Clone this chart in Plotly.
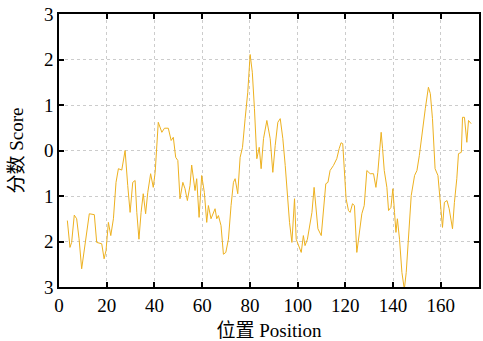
import plotly.graph_objects as go

position = [3.5,4.6,5.3,6.4,7.4,8.4,9.5,10.6,11.6,12.7,14.8,15.8,17.9,18.9,19.7,20.7,21.7,22.8,23.9,24.9,
            26.3,27.7,28.8,29.8,30.9,31.9,32.6,33.5,34.4,35.3,36.3,37.2,38.4,39.5,40.3,41.6,43.1,44.2,45.8,47.0,
            47.9,48.9,49.8,50.7,51.9,52.8,53.8,54.9,55.6,56.3,57.0,57.7,58.7,59.8,60.9,61.9,62.6,63.7,64.7,65.4,
            66.1,66.8,67.9,68.9,69.9,71.0,72.1,73.1,73.8,74.9,75.9,76.9,78.0,79.1,80.1,81.0,81.9,82.9,83.9,84.7,
            85.7,87.1,88.5,89.6,90.6,91.7,92.7,93.8,94.8,95.7,96.6,97.6,98.7,99.4,100.3,101.5,102.4,103.1,104.1,105.2,
            106.0,106.9,107.3,108.5,109.9,110.8,111.8,112.7,113.6,115.0,116.4,117.4,118.2,118.9,119.6,120.3,121.3,122.0,123.0,123.8,
            124.8,125.8,126.9,127.9,129.0,130.4,131.8,132.8,133.6,134.3,135.0,135.6,136.3,137.4,138.1,139.1,139.9,140.6,141.2,141.8,
            142.7,143.7,144.7,145.5,146.5,147.6,149.0,150.0,151.0,152.1,153.5,154.8,155.6,156.5,157.6,158.8,159.7,160.7,161.5,162.6,
            163.5,164.9,165.7,166.7,167.4,168.6,169.1,169.9,170.9,171.6,172.7]

score = [-1.54,-2.13,-2.02,-1.42,-1.50,-1.94,-2.60,-2.16,-1.80,-1.39,-1.41,-2.02,-2.05,-2.38,-2.20,-1.58,-1.87,-1.50,-0.70,-0.40,
         -0.43,0.00,-0.77,-1.36,-0.70,-0.66,-1.36,-1.95,-1.36,-0.95,-1.39,-0.92,-0.51,-0.81,-0.48,0.62,0.40,0.49,0.49,0.22,
         0.29,-0.15,-0.22,-1.06,-0.70,-0.84,-1.10,-0.77,-0.32,-0.62,-0.88,-0.62,-1.47,-0.55,-0.92,-1.58,-1.21,-1.50,-1.39,-1.28,
         -1.50,-1.43,-1.65,-2.28,-2.24,-1.95,-1.21,-0.70,-0.62,-0.95,-0.15,0.07,0.70,1.28,2.11,1.72,0.92,-0.18,0.07,-0.40,
         0.26,0.66,0.26,-0.48,0.11,0.62,0.70,0.26,-0.33,-0.99,-1.58,-2.02,-1.06,-1.95,-2.09,-2.24,-1.87,-2.09,-1.95,-1.65,
         -1.36,-0.81,-1.06,-1.72,-1.87,-1.32,-0.73,-0.70,-0.44,-0.33,-0.18,0.04,0.17,0.15,-0.40,-1.06,-1.32,-1.36,-1.17,-1.21,
         -2.24,-1.80,-1.39,-1.21,-0.44,-0.51,-0.51,-0.81,-0.48,-0.04,0.40,0.04,-0.44,-0.81,-1.32,-1.25,-0.84,-1.36,-1.80,-1.50,
         -1.95,-2.68,-3.05,-2.68,-1.95,-0.99,-0.55,-0.44,-0.11,0.40,0.92,1.39,1.25,0.70,-0.40,-0.55,-1.10,-1.69,-1.14,-1.10,
         -1.28,-1.72,-1.14,-0.62,-0.07,-0.04,0.73,0.73,0.18,0.66,0.59]

x_ticks = [0, 20, 40, 60, 80, 100, 120, 140, 160]
y_ticks = [-3, -2, -1, 0, 1, 2, 3]
y_tick_labels = ["3", "2", "1", "0", "1", "2", "3"]

FONT = "Liberation Serif, Times New Roman, Noto Sans CJK SC, serif"

fig = go.Figure()
fig.add_trace(go.Scatter(x=position, y=score, mode="lines",
                         line=dict(color="#EDB120", width=1), showlegend=False))

axis_common = dict(showline=True, linecolor="black", linewidth=1.5, mirror="ticks",
                   ticks="inside", ticklen=5, tickwidth=1.5, tickcolor="black",
                   showgrid=True, gridcolor="#cccccc", griddash="dot", gridwidth=1,
                   zeroline=False, automargin=False,
                   tickfont=dict(family=FONT, size=19, color="black"))

fig.update_xaxes(range=[0, 176], tickvals=x_ticks,
                 title=dict(text="位置 Position", font=dict(family=FONT, size=19, color="black")),
                 **axis_common)
fig.update_yaxes(range=[-3, 3], tickvals=y_ticks, ticktext=y_tick_labels,
                 title=dict(text="分数 Score", font=dict(family=FONT, size=19, color="black")),
                 **axis_common)

fig.update_layout(width=483, height=341, margin=dict(l=59, r=4, t=14, b=54),
                  plot_bgcolor="white", paper_bgcolor="white",
                  font=dict(family=FONT, size=19, color="black"))

# remove the default page margin so the figure fills the window exactly
fig.write_html("out.html", config={"displayModeBar": False},
               post_script="document.body.style.margin='0';")
